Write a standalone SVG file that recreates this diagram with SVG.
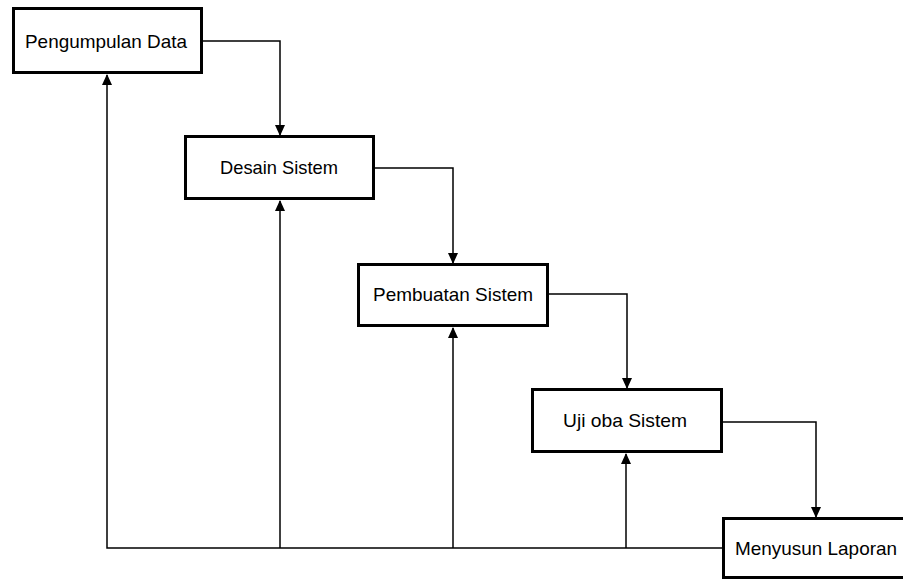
<svg xmlns="http://www.w3.org/2000/svg" width="903" height="581" viewBox="0 0 903 581">
<defs>
<marker id="arrD" markerUnits="userSpaceOnUse" markerWidth="11" markerHeight="10" viewBox="0 0 11 10" refX="10" refY="5" orient="auto">
<path d="M0,0 L11,5 L0,10 Z" fill="#000"/>
</marker>
<style>
.box{fill:#fff;stroke:#000;stroke-width:3}
.lbl{font-family:"Liberation Sans",Arial,sans-serif;font-size:19px;fill:#000;text-anchor:middle}
.ln{fill:none;stroke:#000;stroke-width:1.5}
</style>
</defs>
<rect width="903" height="581" fill="#fff"/>
<g id="connectors">
<path class="ln" d="M203,41 H280 V135" marker-end="url(#arrD)"/>
<path class="ln" d="M375,168 H453 V263" marker-end="url(#arrD)"/>
<path class="ln" d="M549,294 H627 V388" marker-end="url(#arrD)"/>
<path class="ln" d="M723,422 H816 V517" marker-end="url(#arrD)"/>
<path class="ln" d="M722,548 H107 V75" marker-end="url(#arrD)"/>
<path class="ln" d="M280,548 V201" marker-end="url(#arrD)"/>
<path class="ln" d="M453,548 V328" marker-end="url(#arrD)"/>
<path class="ln" d="M626,548 V454" marker-end="url(#arrD)"/>
</g>
<g id="n1"><rect class="box" x="13.5" y="8.5" width="188" height="64"/><text class="lbl" x="106" y="48" textLength="162" lengthAdjust="spacingAndGlyphs">Pengumpulan Data</text></g>
<g id="n2"><rect class="box" x="185.5" y="136.5" width="188" height="62"/><text class="lbl" x="279" y="174" textLength="118" lengthAdjust="spacingAndGlyphs">Desain Sistem</text></g>
<g id="n3"><rect class="box" x="358.5" y="264.5" width="189" height="61"/><text class="lbl" x="453" y="301" textLength="160" lengthAdjust="spacingAndGlyphs">Pembuatan Sistem</text></g>
<g id="n4"><rect class="box" x="532.5" y="389.5" width="189" height="62"/><text class="lbl" x="625" y="427" textLength="124" lengthAdjust="spacingAndGlyphs">Uji oba Sistem</text></g>
<g id="n5"><rect class="box" x="723.5" y="518.5" width="190" height="59"/><text class="lbl" x="816" y="555" textLength="162" lengthAdjust="spacingAndGlyphs">Menyusun Laporan</text></g>
</svg>
